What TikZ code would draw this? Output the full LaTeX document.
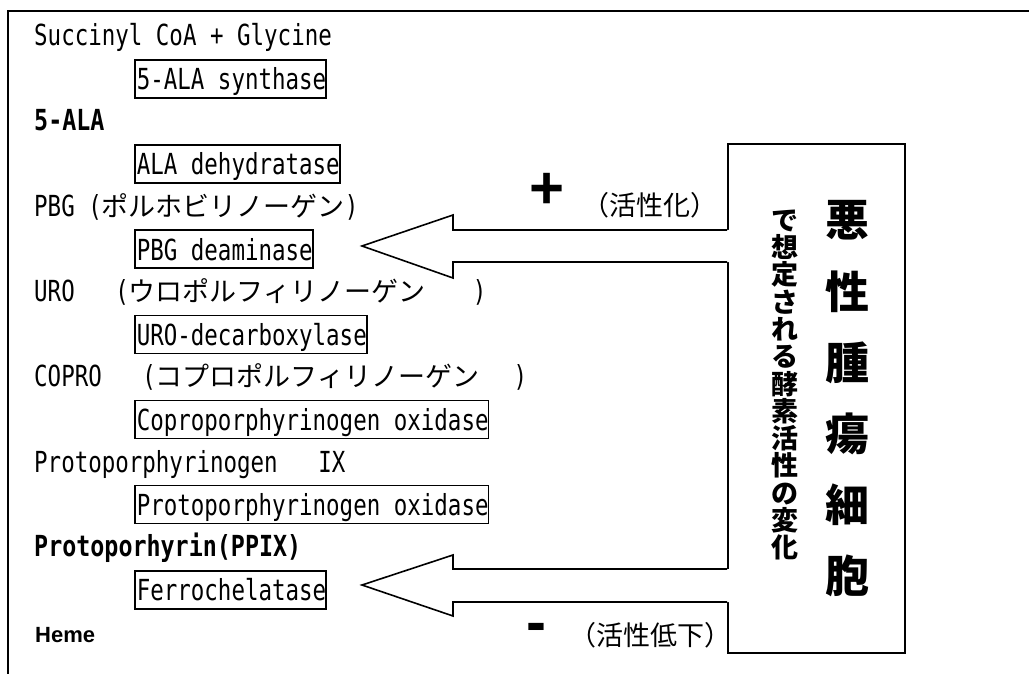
\documentclass[tikz,border=0pt]{standalone}
\usepackage{fontspec}
\newfontfamily\lat{DejaVu Sans Mono}[FakeStretch=0.775]
\newfontfamily\latb{DejaVu Sans Mono Bold}[FakeStretch=0.805]
\newfontfamily\jp{Noto Sans CJK JP}
\newfontfamily\arb{Liberation Sans Bold}
\newfontfamily\hel{Liberation Sans Bold}
\newcommand\kana[1]{{\jp\fontsize{27}{30}\selectfont #1}}
\tikzset{
  lbl/.style={anchor=base west, inner sep=0, font=\lat\fontsize{29}{30}\selectfont},
  lblb/.style={anchor=base west, inner sep=0, font=\latb\fontsize{29}{30}\selectfont},
  hemelbl/.style={anchor=base west, inner sep=0, font=\hel\fontsize{22}{24}\selectfont},
  enz/.style={draw, line width=1.6, anchor=north west, inner xsep=0, inner ysep=0,
    text height=30, text depth=8, font=\lat\fontsize{29}{30}\selectfont},
  ln/.style={line width=1.6},
  sign/.style={inner sep=0, font=\arb\fontsize{60}{60}\selectfont},
  note/.style={inner sep=0, font=\jp\fontsize{27}{27}\selectfont},
}
\begin{document}
\begin{tikzpicture}[x=1pt,y=-1pt]
\useasboundingbox (0,0) rectangle (1029,674);
% outer frame (clipped)
\draw[ln] (1029,11) -- (8,11) -- (8,674);
% pathway
\node[lbl] (s1) at (34,46) {Succinyl CoA + Glycine};
\node[enz] (e1) at (134,59) {\hspace{2pt}5-ALA synthase\hspace{5pt}};
\node[lblb] (s2) at (34,131) {5-ALA};
\node[enz] (e2) at (134,144.2) {\hspace{2pt}ALA dehydratase\hspace{2pt}};
\node[lbl] (s3) at (34,216.5) {PBG (\kana{ポルホビリノーゲン})};
\node[enz] (e3) at (134,229.3) {\hspace{2pt}PBG deaminase\hspace{5pt}};
\node[lbl] (s4) at (34,301.7) {URO\ \ \ (\kana{ウロポルフィリノーゲン}\ \ \ \hspace{7pt})};
\node[enz] (e4) at (134,314.5) {\hspace{2pt}URO-decarboxylase\hspace{5pt}};
\node[lbl] (s5) at (34,386.8) {COPRO\ \ \ (\kana{コプロポルフィリノーゲン}\ \ \hspace{7pt})};
\node[enz] (e5) at (134,399.7) {\hspace{2pt}Coproporphyrinogen oxidase\hspace{5pt}};
\node[lbl] (s6) at (34,472) {Protoporphyrinogen\ \ \ IX};
\node[enz] (e6) at (134,484.8) {\hspace{2pt}Protoporphyrinogen oxidase\hspace{5pt}};
\node[lblb] (s7) at (34,556) {Protoporhyrin(PPIX)};
\node[enz] (e7) at (134,570) {\hspace{2pt}Ferrochelatase\hspace{5pt}};
\node[hemelbl] (s8) at (35,642) {Heme};
% tumour cell box
\node[draw, ln, anchor=north west, inner sep=0, minimum width=177, minimum height=509] (cell) at (727,143) {};
% upper block arrow (activation)
\coordinate (t1) at (362,246);
\fill[white] (730,230) -- (453,230) -- (453,215) -- (t1) -- (453,278) -- (453,262) -- (730,262) -- cycle;
\draw[ln, line join=miter] (cell.west |- 0,230) -- (453,230) -- (453,215) -- (t1) -- (453,278) -- (453,262) -- (cell.west |- 0,262);
% lower block arrow (inhibition)
\coordinate (t2) at (362,585);
\fill[white] (730,569) -- (453,569) -- (453,555) -- (t2) -- (453,616) -- (453,602) -- (730,602) -- cycle;
\draw[ln, line join=miter] (cell.west |- 0,569) -- (453,569) -- (453,555) -- (t2) -- (453,616) -- (453,602) -- (cell.west |- 0,602);
% signs and notes
\node[sign] (plus) at (547,191) {+};
\node[note] (act) at (650,205) {（活性化）};
\node[sign, anchor=base] (minus) at (536,642) {-};
\node[note] (inh) at (650,635) {（活性低下）};
% vertical texts
\node[inner sep=0, align=center, font=\jp\bfseries\fontsize{27}{27.3}\selectfont] (v1) at (785,385) {で\\想\\定\\さ\\れ\\る\\酵\\素\\活\\性\\の\\変\\化};
\node[inner sep=0, align=center, font=\jp\bfseries\fontsize{44}{71.2}\selectfont] (v2) at (847,399) {悪\\性\\腫\\瘍\\細\\胞};
\end{tikzpicture}
\end{document}
